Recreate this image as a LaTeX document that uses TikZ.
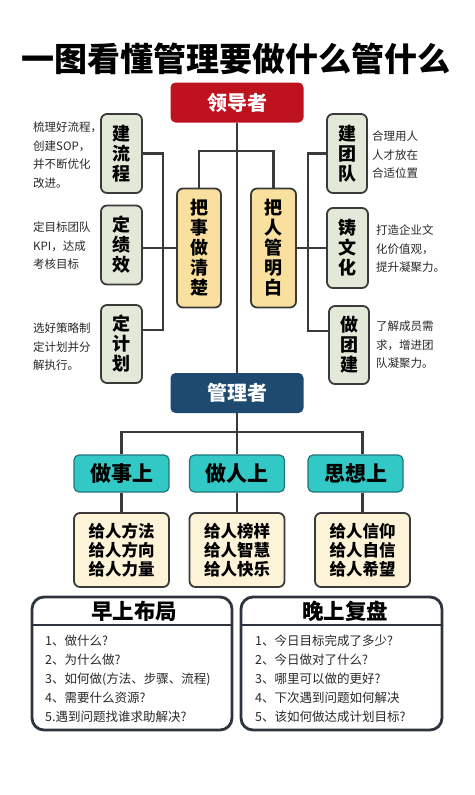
\documentclass[tikz,border=0pt]{standalone}
\usepackage{fontspec}
\setmainfont{Noto Sans CJK SC}
\definecolor{leadred}{RGB}{190,18,30}
\definecolor{mgrblue}{RGB}{30,74,112}
\definecolor{teamgreen}{RGB}{227,233,217}
\definecolor{sunyellow}{RGB}{250,224,158}
\definecolor{tealbox}{RGB}{50,200,198}
\definecolor{tealedge}{RGB}{30,118,122}
\definecolor{creambox}{RGB}{253,243,216}
\definecolor{inkgray}{RGB}{58,58,58}
\definecolor{panelink}{RGB}{46,52,62}
\definecolor{notegray}{RGB}{40,40,40}
\begin{document}
\begin{tikzpicture}[x=1pt,y=-1pt,
	link/.style={line width=2.4pt, color=inkgray},
	headbox/.style={rounded corners=5pt, text=white, inner sep=0pt, minimum width=133pt, minimum height=40pt, font=\fontsize{20}{24}\selectfont\bfseries},
	colbox/.style={draw=inkgray, line width=1.8pt, rounded corners=6pt, align=center, inner sep=0pt, font=\fontsize{18}{20}\selectfont\bfseries},
	note/.style={anchor=west, align=left, text=notegray, inner sep=0pt, font=\fontsize{11.5}{18.5}\selectfont},
	tealtag/.style={draw=tealedge, line width=1.2pt, fill=tealbox, rounded corners=5pt, inner sep=0pt, minimum width=95pt, minimum height=37pt, font=\fontsize{21}{24}\selectfont\bfseries},
	givebox/.style={draw=inkgray, line width=1.8pt, fill=creambox, rounded corners=6pt, align=center, inner sep=0pt, minimum width=95pt, minimum height=74pt, font=\fontsize{16.5}{19}\selectfont\bfseries},
	panel/.style={draw=panelink, line width=2.8pt, rounded corners=12pt},
	paneltitle/.style={inner sep=0pt, font=\fontsize{21.5}{26}\selectfont\bfseries},
	panellist/.style={anchor=west, align=left, inner sep=0pt, text=notegray, font=\fontsize{12.5}{19}\selectfont}]
	\useasboundingbox (0,0) rectangle (474,795);
	\node[font=\fontsize{33}{38}\selectfont\bfseries] (title) at (236,59) {一图看懂管理要做什么管什么};
	\node[headbox, fill=leadred] (lead) at (237,102.5) {领导者};
	\node[headbox, fill=mgrblue] (mgr) at (237,393) {管理者};
	% left column: tasks
	\node[colbox, fill=teamgreen, minimum width=41pt, minimum height=79pt] (flow) at (121.5,153.5) {建\\流\\程};
	\node[colbox, fill=teamgreen, minimum width=41pt, minimum height=79pt] (kpi) at (121.5,245) {定\\绩\\效};
	\node[colbox, fill=teamgreen, minimum width=41pt, minimum height=78pt] (plan) at (121.5,344) {定\\计\\划};
	\node[colbox, fill=sunyellow, minimum width=44pt, minimum height=119pt] (task) at (199,248) {把\\事\\做\\清\\楚};
	\node[note] (flownote) at (33,155) {梳理好流程，\\创建SOP，\\并不断优化\\改进。};
	\node[note] (kpinote) at (33,246) {定目标团队\\KPI，达成\\考核目标};
	\node[note] (plannote) at (33,347) {选好策略制\\定计划并分\\解执行。};
	% right column: people
	\node[colbox, fill=sunyellow, minimum width=45pt, minimum height=119pt] (people) at (273.5,248) {把\\人\\管\\明\\白};
	\node[colbox, fill=teamgreen, minimum width=40pt, minimum height=79pt] (team) at (347,153.5) {建\\团\\队};
	\node[colbox, fill=teamgreen, minimum width=41pt, minimum height=80pt] (culture) at (347.5,248) {铸\\文\\化};
	\node[colbox, fill=teamgreen, minimum width=40pt, minimum height=78pt] (bond) at (349,345) {做\\团\\建};
	\node[note] (teamnote) at (372,155) {合理用人\\人才放在\\合适位置};
	\node[note] (culturenote) at (376,249) {打造企业文\\化价值观，\\提升凝聚力。};
	\node[note] (bondnote) at (376,345) {了解成员需\\求，增进团\\队凝聚力。};
	% links of the upper half
	\coordinate (jct) at (237,151);
	\coordinate (busLtop) at (163,153.5);
	\coordinate (busLbot) at (163,330);
	\coordinate (busRtop) at (308,153.5);
	\coordinate (busRbot) at (308,331);
	\draw[link] (lead.south) -- (mgr.north);
	\draw[link] (task.north) |- (jct);
	\draw[link] (people.north) |- (jct);
	\draw[link] (flow.east) -- (busLtop) -- (busLbot) -- (busLbot -| plan.east);
	\draw[link] (task.west) -- (task.west -| kpi.east);
	\draw[link] (team.west) -- (busRtop) -- (busRbot) -- (busRbot -| bond.west);
	\draw[link] (people.east) -- (people.east -| culture.west);
	% three ways to lead
	\node[tealtag] (doTask) at (121.5,473.5) {做事上};
	\node[tealtag] (doMan) at (237,473.5) {做人上};
	\node[tealtag] (mind) at (355.5,473.5) {思想上};
	\node[givebox] (giveTask) at (121.5,550) {给人方法\\给人方向\\给人力量};
	\node[givebox] (giveMan) at (237,550) {给人榜样\\给人智慧\\给人快乐};
	\node[givebox] (giveMind) at (362.5,550) {给人信仰\\给人自信\\给人希望};
	\coordinate (mbus) at (237,432);
	\draw[link] (mgr.south) -- (doMan.north);
	\draw[link] (doTask.north) |- (mbus) -| (giveMind.north |- mind.north);
	\draw[link] (doTask.south) -- (giveTask.north);
	\draw[link] (doMan.south) -- (giveMan.north);
	\draw[link] (mind.south -| giveMind.north) -- (giveMind.north);
	% morning and evening panels
	\draw[panel] (32,597) rectangle (232,730);
	\draw[panelink, line width=2.8pt] (32,625) -- (232,625);
	\draw[panel] (241,597) rectangle (442,730);
	\draw[panelink, line width=2.8pt] (241,625) -- (442,625);
	\node[paneltitle] (morning) at (134,611) {早上布局};
	\node[paneltitle] (evening) at (345,611) {晚上复盘};
	\node[panellist] (morninglist) at (45,679) {1、做什么?\\2、为什么做?\\3、如何做(方法、步骤、流程)\\4、需要什么资源?\\5.遇到问题找谁求助解决?};
	\node[panellist] (eveninglist) at (255,679) {1、今日目标完成了多少?\\2、今日做对了什么?\\3、哪里可以做的更好?\\4、下次遇到问题如何解决\\5、该如何做达成计划目标?};
\end{tikzpicture}
\end{document}
